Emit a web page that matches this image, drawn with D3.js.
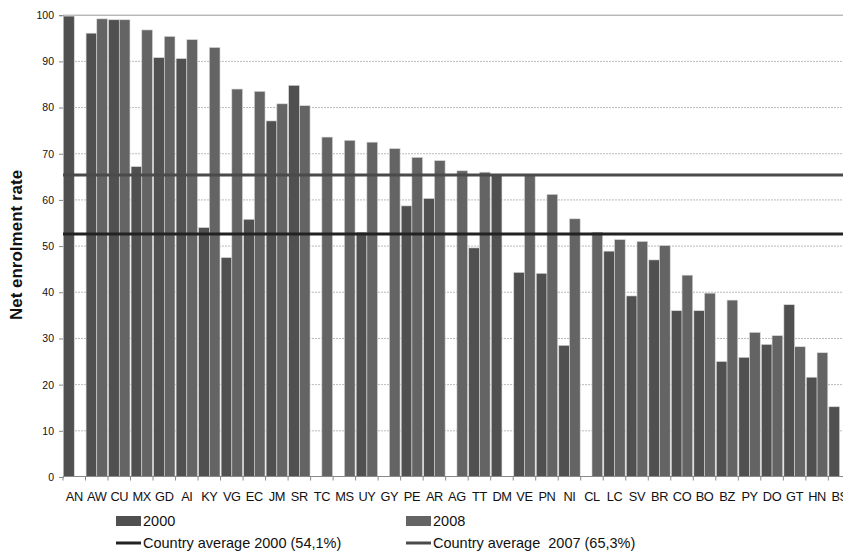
<!DOCTYPE html>
<html>
<head>
<meta charset="utf-8">
<script src="https://cdn.jsdelivr.net/npm/d3@7"></script>
<style>
  body { margin: 0; background: #fff; }
  svg { display: block; font-family: "Liberation Sans", Arial, sans-serif; }
</style>
</head>
<body>
<svg id="chart" width="843" height="551"></svg>
<script>
// countries, sorted as in the figure
var countries = ["AN","AW","CU","MX","GD","AI","KY","VG","EC","JM","SR","TC","MS","UY","GY","PE","AR","AG","TT","DM",
                 "VE","PN","NI","CL","LC","SV","BR","CO","BO","BZ","PY","DO","GT","HN","BS"];
// net enrolment rate, null = no data
var rate2000 = [99.7, 96.0, 98.9, 67.1, 90.7, 90.5, 53.9, 47.4, 55.7, 77.0, 84.7, null, null, 52.9, null, 58.6, 60.2, null, 49.5, 65.4,
                44.2, 44.0, 28.4, null, 48.8, 39.1, 46.9, 35.9, 35.9, 24.9, 25.8, 28.6, 37.2, 21.5, 15.1];
var rate2008 = [null, 99.1, 98.9, 96.7, 95.3, 94.6, 92.9, 83.9, 83.4, 80.7, 80.3, 73.5, 72.8, 72.4, 71.0, 69.1, 68.4, 66.2, 65.9, null,
                65.2, 61.1, 55.8, 52.9, 51.3, 50.9, 50.0, 43.6, 39.7, 38.2, 31.2, 30.5, 28.1, 26.8, null];
var yTicks = [0, 10, 20, 30, 40, 50, 60, 70, 80, 90, 100];
var series = ["2000", "2008"];
var averages = [
    { label: "Country average 2000 (54,1%)", value: 52.5, color: "#222" },
    { label: "Country average  2007 (65,3%)", value: 65.3, color: "#4a4a4a" }
];
var barColors = { "2000": "#505050", "2008": "#646464" };

var svg = d3.select("#chart");
var left = 63, bandW = 22.51;

var x = d3.scaleBand()
    .domain(countries)
    .range([left, left + countries.length * bandW])
    .paddingInner(0.05)
    .paddingOuter(0.025);
var xSub = d3.scaleBand().domain(series).range([0, x.bandwidth()]);
var y = d3.scaleLinear().domain([0, 100]).range([476.5, 14.7]);

// gridlines
svg.append("g").selectAll("line")
    .data(yTicks.filter(function (d) { return d > 0; }))
    .join("line")
    .attr("x1", left).attr("x2", 843)
    .attr("y1", function (d) { return y(d) + 0.5; })
    .attr("y2", function (d) { return y(d) + 0.5; })
    .attr("stroke", function (d) { return d == 100 ? "#999" : "#bbb"; })
    .attr("stroke-width", 1)
    .attr("stroke-dasharray", function (d) { return d == 100 ? null : "2,1"; });

// y axis
var yAxis = d3.axisLeft(y).tickValues(yTicks).tickSize(4).tickPadding(5);
var gy = svg.append("g").attr("transform", "translate(" + left + ",0.5)").call(yAxis);
gy.select(".domain").attr("stroke", "#888");
gy.selectAll(".tick line").attr("stroke", "#888");
gy.selectAll(".tick text").attr("font-size", 10.5).attr("fill", "#111")
    .attr("font-family", "'Liberation Sans', Arial, sans-serif");

// bars
var rows = countries.map(function (c, i) {
    return { c: c, vals: [{ s: "2000", v: rate2000[i] }, { s: "2008", v: rate2008[i] }] };
});
var groups = svg.append("g").selectAll("g")
    .data(rows)
    .join("g")
    .attr("transform", function (d) { return "translate(" + x(d.c) + ",0)"; });
groups.selectAll("rect")
    .data(function (d) { return d.vals.filter(function (e) { return e.v != null; }); })
    .join("rect")
    .attr("x", function (d) { return xSub(d.s); })
    .attr("width", xSub.bandwidth())
    .attr("y", function (d) { return y(d.v); })
    .attr("height", function (d) { return y(0) - y(d.v); })
    .attr("fill", function (d) { return barColors[d.s]; })
    .attr("stroke", "#d8d8d8")
    .attr("stroke-width", 0.6);

// average lines
svg.append("g").selectAll("line")
    .data(averages)
    .join("line")
    .attr("x1", left).attr("x2", 843)
    .attr("y1", function (d) { return y(d.value); })
    .attr("y2", function (d) { return y(d.value); })
    .attr("stroke", function (d) { return d.color; })
    .attr("stroke-width", 3);

// x axis, ticks between categories
var gx = svg.append("g").attr("transform", "translate(0," + y(0) + ")");
gx.append("line").attr("x1", left).attr("x2", 843).attr("stroke", "#888");
gx.selectAll("line.tk")
    .data(countries.concat(["end"]))
    .join("line").attr("class", "tk")
    .attr("x1", function (d, i) { return left + i * bandW; })
    .attr("x2", function (d, i) { return left + i * bandW; })
    .attr("y1", 0).attr("y2", 4)
    .attr("stroke", "#888");
gx.selectAll("text")
    .data(countries)
    .join("text")
    .attr("x", function (d) { return x(d) + x.bandwidth() / 2; })
    .attr("y", 24)
    .attr("text-anchor", "middle")
    .attr("font-size", 12.8)
    .attr("letter-spacing", -0.4)
    .attr("fill", "#111")
    .text(function (d) { return d; });

// y title
svg.append("text")
    .attr("transform", "translate(22,245) rotate(-90)")
    .attr("text-anchor", "middle")
    .attr("font-size", 17)
    .attr("font-weight", "bold")
    .attr("fill", "#111")
    .text("Net enrolment rate");

// legend
var legend = [
    { type: "bar", key: "2000", label: "2000", lx: 116, ly: 521 },
    { type: "bar", key: "2008", label: "2008", lx: 406, ly: 521 },
    { type: "line", color: averages[0].color, label: averages[0].label, lx: 116, ly: 543 },
    { type: "line", color: averages[1].color, label: averages[1].label, lx: 406, ly: 543 }
];
var lg = svg.append("g").selectAll("g").data(legend).join("g")
    .attr("transform", function (d) { return "translate(" + d.lx + "," + d.ly + ")"; });
lg.filter(function (d) { return d.type == "bar"; }).append("rect")
    .attr("x", 0).attr("y", -5).attr("width", 25).attr("height", 10)
    .attr("fill", function (d) { return barColors[d.key]; });
lg.filter(function (d) { return d.type == "line"; }).append("line")
    .attr("x1", 0).attr("x2", 25)
    .attr("stroke", function (d) { return d.color; })
    .attr("stroke-width", 3);
lg.append("text")
    .attr("x", 27).attr("y", 5)
    .attr("font-size", 14.5)
    .attr("fill", "#111")
    .style("white-space", "pre")
    .text(function (d) { return d.label; });
</script>
</body>
</html>
